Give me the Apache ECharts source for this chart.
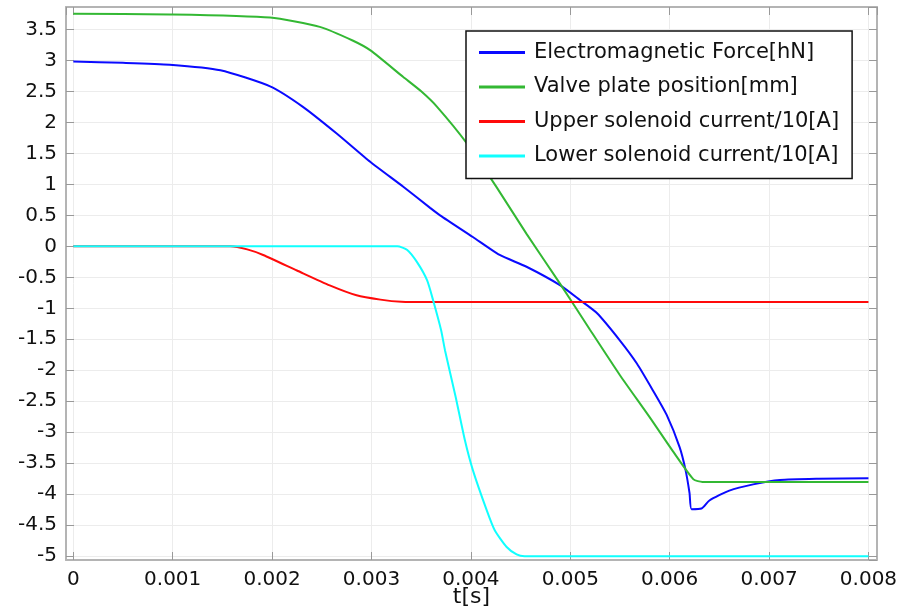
<!DOCTYPE html>
<html>
<head>
<meta charset="utf-8">
<script src="https://cdn.jsdelivr.net/npm/echarts@6/dist/echarts.min.js"></script>
<style>
    html, body { margin: 0; padding: 0; background: #fff; }
    #chart { width: 904px; height: 611px; }
</style>
</head>
<body>
<div id="chart"></div>
<script>
// values
var seriesNames = ['Electromagnetic Force[hN]', 'Valve plate position[mm]', 'Upper solenoid current/10[A]', 'Lower solenoid current/10[A]'];
var seriesColors = ['#0a0aff', '#33b833', '#ff0a0a', '#10ffff'];

var forceT = [0, 0.0005, 0.00097, 0.00148, 0.00198, 0.00231, 0.00265, 0.00299, 0.00332, 0.00359, 0.00369, 0.00402, 0.00429, 0.00456, 0.0049, 0.0051, 0.00527, 0.0055, 0.00567, 0.00583, 0.00597, 0.0061, 0.00616, 0.0062, 0.00622, 0.00632, 0.0064, 0.0066, 0.00684, 0.00711, 0.0075, 0.008];
var forceV = [2.98, 2.96, 2.93, 2.84, 2.58, 2.25, 1.82, 1.36, 0.96, 0.62, 0.50, 0.15, -0.14, -0.33, -0.63, -0.87, -1.08, -1.52, -1.89, -2.32, -2.72, -3.24, -3.61, -3.98, -4.24, -4.23, -4.10, -3.94, -3.84, -3.77, -3.75, -3.74];

var valveT = [0, 0.00097, 0.00198, 0.00248, 0.00281, 0.00299, 0.00332, 0.0035, 0.00366, 0.00396, 0.00426, 0.00456, 0.0049, 0.0052, 0.0055, 0.0058, 0.00603, 0.00624, 0.00633, 0.008];
var valveV = [3.75, 3.74, 3.69, 3.54, 3.32, 3.16, 2.73, 2.50, 2.25, 1.66, 0.95, 0.20, -0.61, -1.35, -2.08, -2.76, -3.30, -3.76, -3.80, -3.80];

var upperT = [0, 0.00158, 0.00175, 0.00191, 0.00225, 0.00258, 0.00285, 0.00309, 0.0033, 0.0036, 0.008];
var upperV = [0, 0, -0.05, -0.14, -0.39, -0.63, -0.79, -0.86, -0.895, -0.9, -0.9];

var lowerT = [0, 0.00326, 0.00336, 0.00346, 0.00356, 0.00362, 0.0037, 0.00374, 0.003847, 0.00394, 0.00402, 0.00416, 0.00424, 0.00436, 0.00446, 0.00454, 0.008];
var lowerV = [0, 0, -0.06, -0.26, -0.55, -0.87, -1.35, -1.68, -2.43, -3.13, -3.61, -4.26, -4.58, -4.85, -4.97, -5.0, -5.0];

var xMin = -0.0000734, xMax = 0.008086;
var yMin = -5.06, yMax = 3.86;

function pairs(ts, vs) {
    var out = [];
    for (var i = 0; i < ts.length; i++) {
        out.push([ts[i], vs[i]]);
    }
    return out;
}

var font = 'DejaVu Sans';
var frameColor = '#b4b4b4';

var chart = echarts.init(document.getElementById('chart'));

function frameAxis(pos, isX) {
    return {
        type: 'value',
        position: pos,
        min: isX ? xMin : yMin,
        max: isX ? xMax : yMax,
        splitNumber: isX ? 8 : 18,
        axisLine: { show: true, onZero: false, lineStyle: { color: frameColor, width: 2 } },
        axisTick: { show: true, inside: true, length: 8, lineStyle: { color: '#999' } },
        axisLabel: { show: false },
        splitLine: { show: false }
    };
}

var option = {
    backgroundColor: '#fff',
    animation: false,
    textStyle: { fontFamily: font },
    grid: { left: 66, top: 7, right: 27, bottom: 51, containLabel: false, outerBoundsMode: 'none' },
    legend: {
        data: seriesNames,
        orient: 'vertical',
        left: 466,
        top: 31,
        padding: [11, 13, 12, 13],
        itemWidth: 46,
        itemHeight: 3,
        itemGap: 13.5,
        icon: 'rect',
        backgroundColor: '#fff',
        borderColor: '#111',
        borderWidth: 1.5,
        textStyle: { fontFamily: font, fontSize: 21, color: '#111', padding: [0, 0, 0, 4] }
    },
    xAxis: [{
        type: 'value',
        position: 'bottom',
        min: xMin,
        max: xMax,
        splitNumber: 8,
        name: 't[s]',
        nameLocation: 'middle',
        nameGap: 37,
        nameMoveOverlap: false,
        nameTextStyle: { fontFamily: font, fontSize: 22, color: '#111', verticalAlign: 'middle' },
        axisLine: { show: true, onZero: false, lineStyle: { color: frameColor, width: 2 } },
        axisTick: { show: true, inside: true, length: 8, lineStyle: { color: '#999' } },
        axisLabel: { fontFamily: font, fontSize: 20, color: '#111', margin: 10, showMinLabel: false, showMaxLabel: false },
        splitLine: { show: true, lineStyle: { color: '#ececec', width: 1 } }
    }, frameAxis('top', true)],
    yAxis: [{
        type: 'value',
        position: 'left',
        min: yMin,
        max: yMax,
        splitNumber: 18,
        axisLine: { show: true, onZero: false, lineStyle: { color: frameColor, width: 2 } },
        axisTick: { show: true, inside: true, length: 8, lineStyle: { color: '#999' } },
        axisLabel: { fontFamily: font, fontSize: 20, color: '#111', margin: 9, showMinLabel: false, showMaxLabel: false },
        splitLine: { show: true, lineStyle: { color: '#ececec', width: 1 } }
    }, frameAxis('right', false)],
    series: [
        { name: seriesNames[0], data: pairs(forceT, forceV) },
        { name: seriesNames[1], data: pairs(valveT, valveV) },
        { name: seriesNames[2], data: pairs(upperT, upperV) },
        { name: seriesNames[3], data: pairs(lowerT, lowerV) }
    ].map(function (s, i) {
        return {
            name: s.name,
            type: 'line',
            xAxisIndex: 0,
            yAxisIndex: 0,
            data: s.data,
            symbol: 'none',
            smooth: 0.2,
            itemStyle: { color: seriesColors[i] },
            lineStyle: { color: seriesColors[i], width: 2 }
        };
    })
};

chart.setOption(option);
</script>
</body>
</html>
